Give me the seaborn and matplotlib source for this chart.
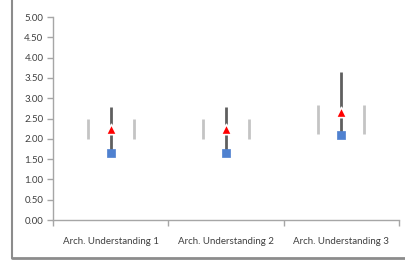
import matplotlib.pyplot as plt
import seaborn as sns
import numpy as np
import pandas as pd
from matplotlib.lines import Line2D

categories = ['Arch. Understanding 1', 'Arch. Understanding 2', 'Arch. Understanding 3']
high = [2.78, 2.78, 3.65]
low = [1.65, 1.65, 2.05]
mean = [2.24, 2.24, 2.65]
median = [1.65, 1.65, 2.09]
band_low = [1.99, 1.99, 2.12]
band_high = [2.49, 2.49, 2.83]

df = pd.DataFrame({'cat': categories, 'high': high, 'low': low, 'mean': mean,
                   'median': median, 'band_low': band_low, 'band_high': band_high})
df['pos'] = np.arange(len(df))

sns.set_style('white')
plt.rcParams['font.family'] = ['Lato', 'DejaVu Sans']

fig = plt.figure(figsize=(4.05, 2.67), dpi=100)
ax = fig.add_axes([0.131, 0.176, 0.854, 0.760])

# high-low line
ax.vlines(df['pos'], df['low'], df['high'], color='#5f5f5f', lw=2, zorder=2)
# side bars
for off in (-0.2, 0.2):
    ax.vlines(df['pos'] + off, df['band_low'], df['band_high'], color='#c4c4c4', lw=2, zorder=2)

sns.scatterplot(data=df, x='pos', y='median', marker='s', s=34, color='#4f81d0',
                edgecolor='#4f81d0', linewidth=0.5, ax=ax, zorder=3)
sns.scatterplot(data=df, x='pos', y='mean', marker='^', s=55, color='#ff0000',
                edgecolor='white', linewidth=1.2, ax=ax, zorder=4)

ax.set_xlim(-0.5, len(df) - 0.5)
ax.set_ylim(0, 5)
ax.set_yticks(np.arange(0, 5.01, 0.5))
ax.set_yticklabels([f'{v:.2f}' for v in np.arange(0, 5.01, 0.5)])
ax.set_xticks(df['pos'])
ax.set_xticklabels(categories)
ax.set_xticks(np.arange(-0.5, len(df), 1), minor=True)
ax.set_xlabel('')
ax.set_ylabel('')

for s in ['top', 'right']:
    ax.spines[s].set_visible(False)
for s in ['left', 'bottom']:
    ax.spines[s].set_color('#a6a6a6')
    ax.spines[s].set_linewidth(1)

ax.tick_params(axis='y', which='major', left=True, length=4, width=1, color='#a6a6a6',
               labelsize=7, labelcolor='#404040', pad=3)
ax.tick_params(axis='x', which='major', bottom=False, labelsize=7, labelcolor='#404040', pad=9)
ax.tick_params(axis='x', which='minor', bottom=True, length=4, width=1, color='#a6a6a6')

# outer frame lines
fig.add_artist(Line2D([12 / 405, 12 / 405], [9 / 267, 1], color='#8c8c8c', lw=1.5))
fig.add_artist(Line2D([12 / 405, 1], [9 / 267, 9 / 267], color='#8c8c8c', lw=2))

plt.savefig('out.png', dpi=100)
